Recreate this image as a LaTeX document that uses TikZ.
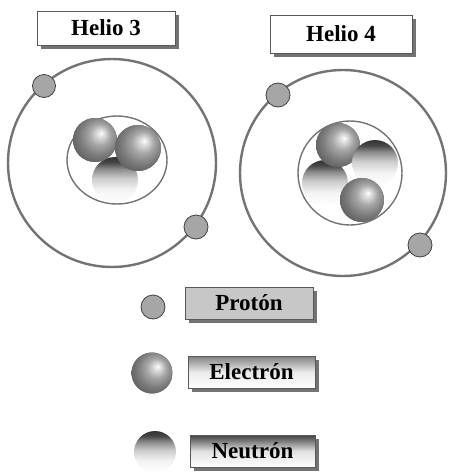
\documentclass[tikz,border=0pt]{standalone}
\usepackage{fontspec}
\setmainfont{Liberation Serif}
\usetikzlibrary{shadows}

\pgfdeclareradialshading{shinyball}{\pgfpoint{7bp}{8bp}}{color(0bp)=(white); color(3bp)=(black!10); color(12bp)=(black!35); color(22bp)=(black!52); color(30bp)=(black!62); color(50bp)=(black!62)}
\pgfdeclareverticalshading{darktop}{100bp}{color(0bp)=(white); color(25bp)=(white); color(40bp)=(black!5); color(52bp)=(black!20); color(62bp)=(black!45); color(69bp)=(black!72); color(75bp)=(black!80); color(100bp)=(black!80)}

\tikzset{
	tag/.style={draw=black!65, line width=0.7pt, fill=white, minimum width=#1, minimum height=32pt, inner sep=0pt,
		font=\fontsize{23}{23}\selectfont\bfseries,
		drop shadow={shadow xshift=4pt, shadow yshift=-4pt, fill=black!55, opacity=1}},
	orbit/.style={draw=black!55, line width=2.4pt},
	shell/.style={draw=black!55, line width=1.4pt},
	proton/.style={circle, draw=black!75, fill=black!35, line width=0.8pt, minimum size=#1, inner sep=0pt},
	electron/.style={circle, preaction={fill=black!60}, shading=shinyball, minimum size=#1, inner sep=0pt},
	neutron/.style={circle, shading=darktop, minimum size=#1, inner sep=0pt}
}

\begin{document}
\begin{tikzpicture}[x=1pt,y=-1pt]
		\useasboundingbox (0,0) rectangle (449,472);
		\node[tag=138pt, minimum height=34pt] (he3) at (106,28) {Helio 3};
		\node[tag=142pt, minimum height=38pt] (he4) at (341,34) {Helio 4};
		\draw[orbit] (112,163) circle (104);
		\draw[shell] (117,160) ellipse (50 and 44);
		\node[neutron=46pt] (n3c) at (115,180) {};
		\node[electron=44pt] (n3a) at (95,140) {};
		\node[electron=46pt] (n3b) at (138,148) {};
		\node[proton=23pt] (e3a) at (44,86) {};
		\node[proton=24pt] (e3b) at (196,227) {};
		\draw[orbit] (343,173) circle (103);
		\draw[shell] (350,173) circle (52);
		\node[neutron=46pt] (n4c) at (325,183) {};
		\node[electron=44pt] (n4a) at (338,145) {};
		\node[neutron=46pt] (n4b) at (375,163) {};
		\node[electron=44pt] (n4d) at (362,200) {};
		\node[proton=24pt] (e4a) at (278,95) {};
		\node[proton=24pt] (e4b) at (420,245) {};
		\node[proton=24pt] (kp) at (153,307) {};
		\node[tag=128pt, fill=black!22] (lp) at (249,303) {Protón};
		\node[electron=41pt] (ke) at (152,373) {};
		\node[tag=127pt, top color=black!50, bottom color=white, middle color=black!8] (le) at (251.5,372) {Electrón};
		\node[neutron=42pt] (kn) at (155,452) {};
		\node[tag=125pt, top color=black!75, bottom color=white, middle color=black!12] (ln) at (252.5,451) {Neutrón};
	\end{tikzpicture}
\end{document}
